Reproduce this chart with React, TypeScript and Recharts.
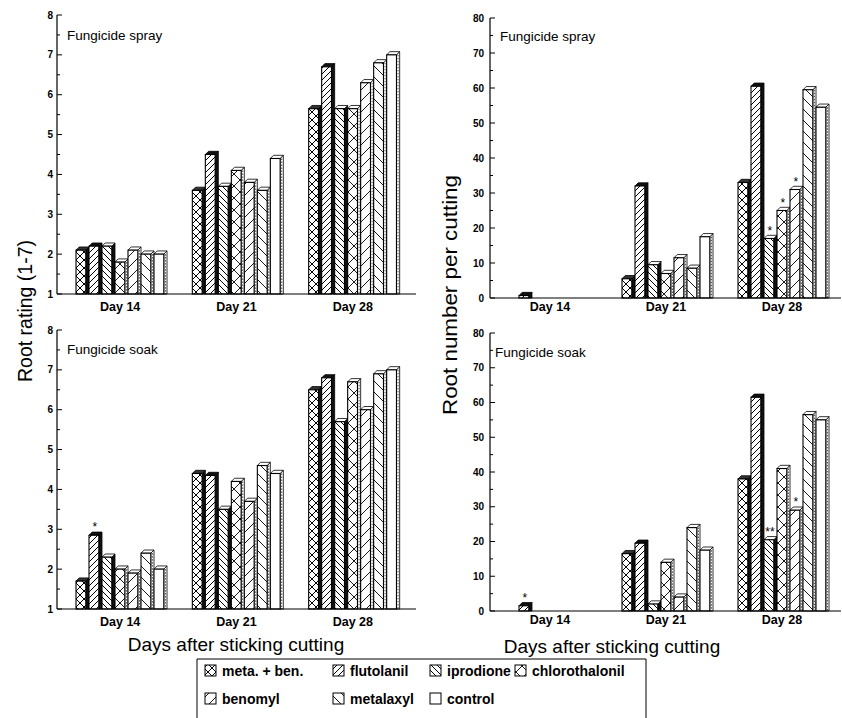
import React from 'react';
import { BarChart, Bar, XAxis, YAxis, LabelList } from 'recharts';

// categories / treatments
const days = ['Day 14', 'Day 21', 'Day 28'];
const treatments = ['meta. + ben.', 'flutolanil', 'iprodione', 'chlorothalonil', 'benomyl', 'metalaxyl', 'control'];
const keys = ['metaBen', 'flutolanil', 'iprodione', 'chlorothalonil', 'benomyl', 'metalaxyl', 'control'];

// root rating (1-7), fungicide spray
const sprayRating14 = [2.1, 2.2, 2.2, 1.8, 2.1, 2.0, 2.0];
const sprayRating21 = [3.6, 4.5, 3.7, 4.1, 3.8, 3.6, 4.4];
const sprayRating28 = [5.65, 6.7, 5.65, 5.65, 6.3, 6.8, 7.0];

// root rating (1-7), fungicide soak
const soakRating14 = [1.7, 2.85, 2.3, 2.0, 1.9, 2.4, 2.0];
const soakRating21 = [4.4, 4.35, 3.5, 4.2, 3.7, 4.6, 4.4];
const soakRating28 = [6.5, 6.8, 5.7, 6.7, 6.0, 6.9, 7.0];

// root number per cutting, fungicide spray
const sprayNumber14 = [0, 0.7, 0, 0, 0, 0, 0];
const sprayNumber21 = [5.5, 32, 9.5, 7, 11.5, 8.5, 17.5];
const sprayNumber28 = [33, 60.5, 17, 25, 31, 59.5, 54.5];

// root number per cutting, fungicide soak
const soakNumber14 = [0, 1.5, 0, 0, 0, 0, 0];
const soakNumber21 = [16.5, 19.5, 2, 14, 4, 24, 17.5];
const soakNumber28 = [38, 61.5, 20.5, 41, 29, 56.5, 55];

// significance marks
const noMarks = ['', '', '', '', '', '', ''];
const soakRatingMarks14 = ['', '*', '', '', '', '', ''];
const sprayNumberMarks28 = ['', '', '*', '*', '*', '', ''];
const soakNumberMarks14 = ['', '*', '', '', '', '', ''];
const soakNumberMarks28 = ['', '', '**', '', '*', '', ''];

const ratingTicks = [1, 1.5, 2, 2.5, 3, 3.5, 4, 4.5, 5, 5.5, 6, 6.5, 7, 7.5, 8];
const numberTicks = [0, 5, 10, 15, 20, 25, 30, 35, 40, 45, 50, 55, 60, 65, 70, 75, 80];

const FONT = '"Liberation Sans", Arial, Helvetica, sans-serif';

const buildRows = (values: number[][], marks: string[][]) =>
  days.map((day, i) => {
    const row: any = { day };
    keys.forEach((k, j) => {
      row[k] = values[i][j];
      row[k + 'Mark'] = marks[i][j];
    });
    return row;
  });

// face pattern, side fill and cap fill per treatment
const barStyles = [
  { face: 'url(#p-cross)', side: '#111', cap: '#333' },
  { face: 'url(#p-fwd)', side: '#111', cap: '#111' },
  { face: 'url(#p-back)', side: '#111', cap: '#fff' },
  { face: 'url(#p-chloro)', side: '#fff', cap: '#fff' },
  { face: 'url(#p-beno)', side: '#fff', cap: '#fff' },
  { face: 'url(#p-metal)', side: '#fff', cap: '#fff' },
  { face: '#fff', side: '#fff', cap: '#fff' },
];

const Bar3D = (props: any) => {
  const { x, y, width, height, style } = props;
  if (!height || height < 0.3) return null;
  const d = 3.2;
  const fw = width - d;
  const bottom = y + height;
  const light = style.side === '#fff';
  return (
    <g>
      <polygon
        points={`${x + fw},${y} ${x + width},${y - d} ${x + width},${bottom} ${x + fw},${bottom}`}
        fill={style.side}
        stroke="#000"
        strokeWidth={0.8}
      />
      {light && height > 3 && (
        <line
          x1={x + fw + d / 2}
          x2={x + fw + d / 2}
          y1={y}
          y2={bottom}
          stroke="#444"
          strokeWidth={1}
          strokeDasharray="1.5 1.5"
        />
      )}
      <polygon
        points={`${x},${y} ${x + d},${y - d} ${x + width},${y - d} ${x + fw},${y}`}
        fill={style.cap}
        stroke="#000"
        strokeWidth={0.8}
      />
      <rect x={x} y={y} width={fw} height={height} fill={style.face} stroke="#000" strokeWidth={1.1} />
    </g>
  );
};

const MarkLabel = (props: any) => {
  const { x, y, width, value } = props;
  if (!value) return null;
  return (
    <text
      x={x + (width - 3.2) / 2 + 1}
      y={y - 4}
      textAnchor="middle"
      fontSize={12}
      fontFamily={FONT}
      fill="#000"
    >
      {value}
    </text>
  );
};

const YTick = (props: any) => {
  const { x, y, payload, side, major, labelGap } = props;
  const v = payload.value;
  const isMajor = Math.abs(v / major - Math.round(v / major)) < 1e-6;
  const dir = side === 'right' ? -1 : 1;
  const len = isMajor ? 5 : 3;
  return (
    <g>
      <line x1={x} x2={x + dir * len} y1={y} y2={y} stroke="#000" strokeWidth={1} />
      {side === 'left' && isMajor && (
        <text
          x={x - labelGap}
          y={y}
          dy="0.36em"
          textAnchor="end"
          fontSize={10}
          fontWeight="bold"
          fontFamily={FONT}
          fill="#000"
        >
          {v}
        </text>
      )}
    </g>
  );
};

interface PanelProps {
  rows: any[];
  left: number;
  top: number;
  width: number;
  height: number;
  marginTop: number;
  marginRight: number;
  yWidth: number;
  xHeight: number;
  xTickMargin: number;
  padLeft: number;
  padRight: number;
  domain: [number, number];
  ticks: number[];
  major: number;
  labelGap: number;
}

const Panel = (p: PanelProps) => (
  <div style={{ position: 'absolute', left: p.left, top: p.top }}>
    <BarChart
      width={p.width}
      height={p.height}
      data={p.rows}
      margin={{ top: p.marginTop, right: p.marginRight, left: 0, bottom: 0 }}
      barCategoryGap={14}
      barGap={0}
    >
      <XAxis
        xAxisId="bottom"
        dataKey="day"
        height={p.xHeight}
        tickLine={false}
        tickSize={0}
        tickMargin={p.xTickMargin}
        axisLine={{ stroke: '#000', strokeWidth: 1.2 }}
        tick={{ fill: '#000', fontSize: 12.5, fontWeight: 'bold', fontFamily: FONT }}
        padding={{ left: p.padLeft, right: p.padRight }}
      />
      <XAxis
        xAxisId="top"
        orientation="top"
        dataKey="day"
        height={0}
        tick={false}
        tickLine={false}
        axisLine={{ stroke: '#000', strokeWidth: 1.2 }}
      />
      <YAxis
        yAxisId="left"
        width={p.yWidth}
        domain={p.domain}
        ticks={p.ticks}
        interval={0}
        tickLine={false}
        tickSize={0}
        tickMargin={0}
        axisLine={{ stroke: '#000', strokeWidth: 1.2 }}
        tick={(t: any) => <YTick {...t} side="left" major={p.major} labelGap={p.labelGap} />}
      />
      <YAxis
        yAxisId="right"
        orientation="right"
        width={0}
        domain={p.domain}
        ticks={p.ticks}
        interval={0}
        tickLine={false}
        tickSize={0}
        tickMargin={0}
        axisLine={{ stroke: '#000', strokeWidth: 1.2 }}
        tick={(t: any) => <YTick {...t} side="right" major={p.major} labelGap={0} />}
      />
      {keys.map((k, i) => (
        <Bar
          key={k}
          dataKey={k}
          name={treatments[i]}
          xAxisId="bottom"
          yAxisId="left"
          isAnimationActive={false}
          shape={(s: any) => <Bar3D {...s} style={barStyles[i]} />}
        >
          <LabelList dataKey={k + 'Mark'} content={MarkLabel} />
        </Bar>
      ))}
    </BarChart>
  </div>
);

const Patterns = () => (
  <svg width={0} height={0} style={{ position: 'absolute' }}>
    <defs>
      <pattern id="p-cross" width={8} height={8} patternUnits="userSpaceOnUse">
        <rect width={8} height={8} fill="#fff" />
        <path d="M0,0 L8,8 M8,0 L0,8" stroke="#000" strokeWidth={1} />
      </pattern>
      <pattern id="p-fwd" width={6} height={6} patternUnits="userSpaceOnUse">
        <rect width={6} height={6} fill="#fff" />
        <path d="M0,6 L6,0 M-1,1 L1,-1 M5,7 L7,5" stroke="#000" strokeWidth={1} />
      </pattern>
      <pattern id="p-back" width={6} height={6} patternUnits="userSpaceOnUse">
        <rect width={6} height={6} fill="#fff" />
        <path d="M0,0 L6,6 M-1,5 L1,7 M5,-1 L7,1" stroke="#000" strokeWidth={1} />
      </pattern>
      <pattern id="p-chloro" width={12} height={12} patternUnits="userSpaceOnUse">
        <rect width={12} height={12} fill="#fff" />
        <path d="M0,0 L12,12 M12,0 L0,12" stroke="#000" strokeWidth={0.9} />
      </pattern>
      <pattern id="p-beno" width={11} height={11} patternUnits="userSpaceOnUse">
        <rect width={11} height={11} fill="#fff" />
        <path d="M0,11 L11,0 M-1,1 L1,-1 M10,12 L12,10" stroke="#000" strokeWidth={0.9} />
      </pattern>
      <pattern id="p-metal" width={11} height={11} patternUnits="userSpaceOnUse">
        <rect width={11} height={11} fill="#fff" />
        <path d="M0,0 L11,11 M-1,10 L1,12 M10,-1 L12,1" stroke="#000" strokeWidth={0.9} />
      </pattern>
    </defs>
  </svg>
);

const legendItems = [
  { i: 0, x: 205, y: 665 },
  { i: 1, x: 333, y: 665 },
  { i: 2, x: 430, y: 665 },
  { i: 3, x: 515, y: 665 },
  { i: 4, x: 205, y: 693 },
  { i: 5, x: 333, y: 693 },
  { i: 6, x: 430, y: 693 },
];

const Overlay = () => (
  <svg
    width={842}
    height={718}
    style={{ position: 'absolute', left: 0, top: 0, pointerEvents: 'none' }}
    fontFamily={FONT}
  >
    <text x={67} y={40} fontSize={13.5} fill="#000">Fungicide spray</text>
    <text x={500} y={41} fontSize={13.5} fill="#000">Fungicide spray</text>
    <text x={67} y={354} fontSize={13.5} fill="#000">Fungicide soak</text>
    <text x={495} y={357} fontSize={13.5} fill="#000">Fungicide soak</text>

    <text x={32} y={311} fontSize={19.5} textAnchor="middle" transform="rotate(-90 32 311)" fill="#000">
      Root rating (1-7)
    </text>
    <text
      x={457}
      y={295}
      fontSize={20}
      textAnchor="middle"
      textLength={240}
      lengthAdjust="spacingAndGlyphs"
      transform="rotate(-90 457 295)"
      fill="#000"
    >
      Root number per cutting
    </text>
    <text x={236} y={651} fontSize={19} textAnchor="middle" fill="#000">Days after sticking cutting</text>
    <text x={612} y={653} fontSize={19} textAnchor="middle" fill="#000">Days after sticking cutting</text>

    <path d="M197,720 L197,659 L646,659 L646,720" fill="none" stroke="#000" strokeWidth={1} />
    {legendItems.map((it) => (
      <g key={it.i}>
        <rect
          x={it.x}
          y={it.y}
          width={11}
          height={11}
          fill={barStyles[it.i].face}
          stroke="#000"
          strokeWidth={1}
        />
        <text x={it.x + 17} y={it.y + 10.5} fontSize={14} fontWeight="bold" fill="#000">
          {treatments[it.i]}
        </text>
      </g>
    ))}
  </svg>
);

export default function App() {
  const sprayRatingRows = buildRows([sprayRating14, sprayRating21, sprayRating28], [noMarks, noMarks, noMarks]);
  const soakRatingRows = buildRows([soakRating14, soakRating21, soakRating28], [soakRatingMarks14, noMarks, noMarks]);
  const sprayNumberRows = buildRows([sprayNumber14, sprayNumber21, sprayNumber28], [noMarks, noMarks, sprayNumberMarks28]);
  const soakNumberRows = buildRows([soakNumber14, soakNumber21, soakNumber28], [soakNumberMarks14, noMarks, soakNumberMarks28]);

  const left = { left: 0, width: 420, height: 322, marginTop: 15, marginRight: 4, yWidth: 57, xHeight: 28, xTickMargin: 8, padLeft: 5, padRight: 5, domain: [1, 8] as [number, number], ticks: ratingTicks, major: 1, labelGap: 4 };
  const right = { left: 430, width: 412, height: 326, marginTop: 18, marginRight: 1, yWidth: 60, xHeight: 28, xTickMargin: 4, padLeft: 2, padRight: 1, domain: [0, 80] as [number, number], ticks: numberTicks, major: 10, labelGap: 6 };

  return (
    <div
      style={{
        position: 'absolute',
        left: 0,
        top: 0,
        width: 842,
        height: 718,
        background: '#fff',
        fontFamily: FONT,
        overflow: 'hidden',
      }}
    >
      <Patterns />
      <Panel rows={sprayRatingRows} top={0} {...left} />
      <Panel rows={soakRatingRows} top={315} {...left} />
      <Panel rows={sprayNumberRows} top={0} {...right} />
      <Panel rows={soakNumberRows} top={315} {...right} xHeight={30} />
      <Overlay />
    </div>
  );
}
